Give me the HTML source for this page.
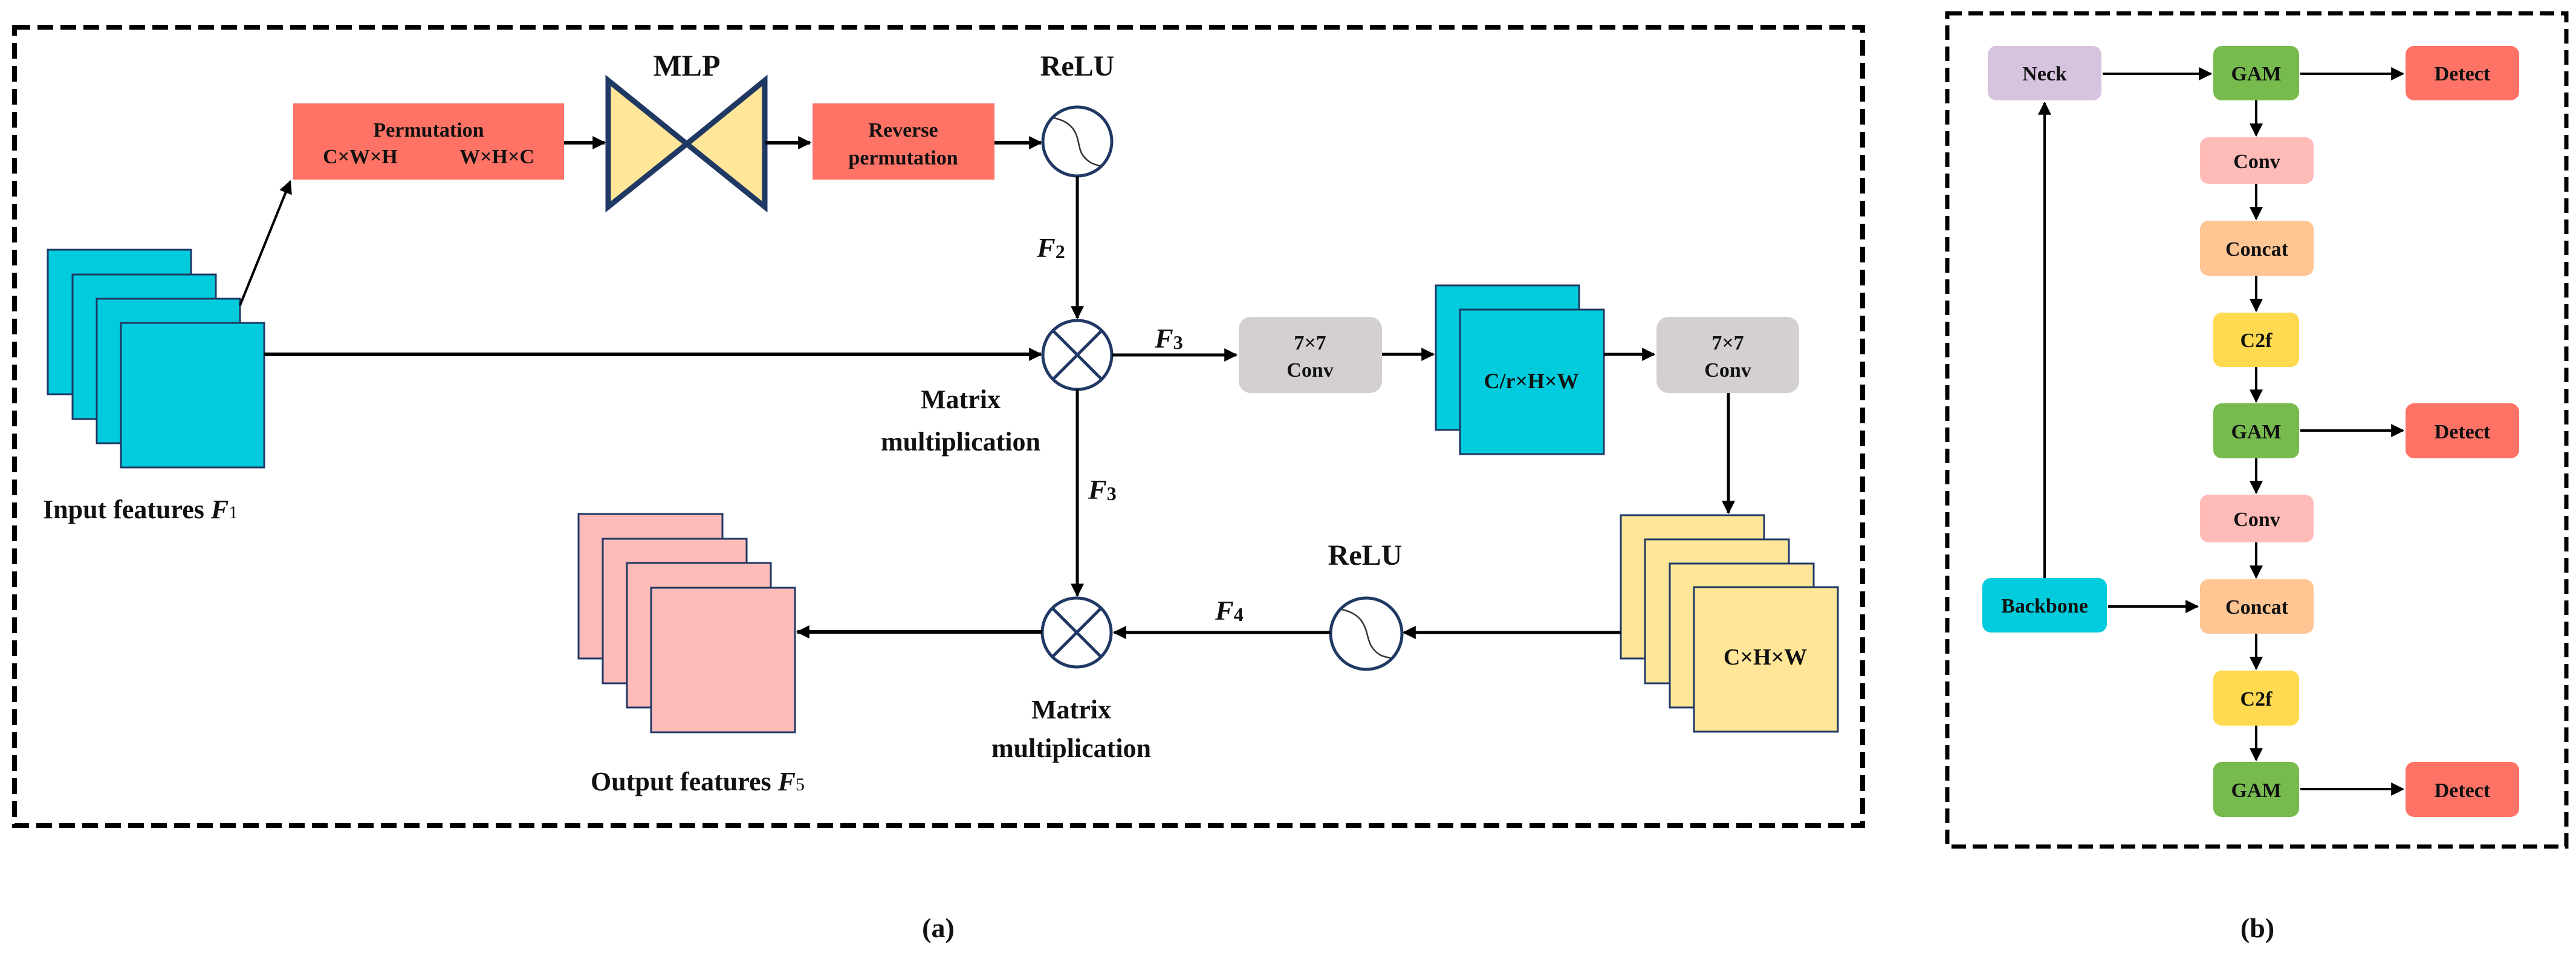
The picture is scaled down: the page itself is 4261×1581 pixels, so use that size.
<!DOCTYPE html>
<html><head><meta charset="utf-8"><style>
html,body{margin:0;padding:0;background:#fff}
svg{display:block}
text{font-family:"Liberation Serif",serif;font-weight:bold;fill:#111}
</style></head><body>
<svg width="4261" height="1581" viewBox="0 0 4261 1581" xmlns="http://www.w3.org/2000/svg">
<defs>
<marker id="ar" markerWidth="8" markerHeight="8" refX="7" refY="4" orient="auto" markerUnits="userSpaceOnUse" viewBox="0 0 8 8">
</marker>
<marker id="a" viewBox="0 0 10 10" refX="9" refY="5" markerWidth="22" markerHeight="22" markerUnits="userSpaceOnUse" orient="auto"><path d="M0,0 L10,5 L0,10 z" fill="#000"/></marker>
</defs>
<!-- dashed boxes -->
<rect x="24" y="45" width="3057" height="1320" fill="none" stroke="#000" stroke-width="8" stroke-dasharray="26,12"/>
<rect x="3221" y="22" width="1024" height="1378" fill="none" stroke="#000" stroke-width="7" stroke-dasharray="24,11"/>

<!-- (a) -->
<text x="656" y="110" text-anchor="middle" font-size="48" font-weight="bold" style="display:none"></text>
<text x="1136" y="125" text-anchor="middle" font-size="50">MLP</text>
<text x="1782" y="125" text-anchor="middle" font-size="48">ReLU</text>

<rect x="485" y="171" width="448" height="126" fill="#FF7366"/>
<text x="709" y="226" text-anchor="middle" font-size="34">Permutation</text>
<text x="596" y="270" text-anchor="middle" font-size="34">C×W×H</text>
<text x="822" y="270" text-anchor="middle" font-size="34">W×H×C</text>

<polygon points="1006,133 1136,238 1006,342" fill="#FFE699" stroke="#1F3864" stroke-width="9" stroke-linejoin="miter"/>
<polygon points="1265,133 1136,238 1265,342" fill="#FFE699" stroke="#1F3864" stroke-width="9"/>

<rect x="1344" y="171" width="301" height="126" fill="#FF7366"/>
<text x="1494" y="226" text-anchor="middle" font-size="34">Reverse</text>
<text x="1494" y="272" text-anchor="middle" font-size="34">permutation</text>

<line x1="933" y1="236" x2="1000" y2="236" stroke="#000" stroke-width="6" marker-end="url(#a)"/>
<line x1="1266" y1="236" x2="1340" y2="236" stroke="#000" stroke-width="6" marker-end="url(#a)"/>
<line x1="1645" y1="236" x2="1722" y2="236" stroke="#000" stroke-width="6" marker-end="url(#a)"/>

<circle cx="1782" cy="234" r="57" fill="#fff" stroke="#1F3864" stroke-width="5"/>
<path d="M1743,195 C1790,205 1780,240 1790,255 C1800,270 1810,272 1822,275" fill="none" stroke="#333" stroke-width="2.5"/>

<line x1="1782" y1="291" x2="1782" y2="526" stroke="#000" stroke-width="5" marker-end="url(#a)"/>
<text x="1715" y="425" font-size="46" font-style="italic">F<tspan font-size="32" font-style="normal" dy="2">2</tspan></text>

<!-- input features -->
<rect x="79" y="413" width="237" height="239" fill="#00CCDD" stroke="#1F3864" stroke-width="3"/>
<rect x="120" y="454" width="237" height="239" fill="#00CCDD" stroke="#1F3864" stroke-width="3"/>
<rect x="160" y="494" width="237" height="239" fill="#00CCDD" stroke="#1F3864" stroke-width="3"/>
<rect x="200" y="534" width="237" height="239" fill="#00CCDD" stroke="#1F3864" stroke-width="3"/>
<text x="71" y="857" font-size="44">Input features <tspan font-style="italic">F</tspan><tspan font-size="30" font-weight="normal">1</tspan></text>
<line x1="397" y1="505" x2="480" y2="300" stroke="#000" stroke-width="4" marker-end="url(#a)"/>
<line x1="437" y1="586" x2="1722" y2="586" stroke="#000" stroke-width="6" marker-end="url(#a)"/>

<circle cx="1782" cy="587" r="57" fill="#fff" stroke="#1F3864" stroke-width="5"/>
<line x1="1742" y1="547" x2="1822" y2="627" stroke="#1F3864" stroke-width="5"/>
<line x1="1822" y1="547" x2="1742" y2="627" stroke="#1F3864" stroke-width="5"/>
<text x="1589" y="675" text-anchor="middle" font-size="44">Matrix</text>
<text x="1589" y="745" text-anchor="middle" font-size="44">multiplication</text>

<line x1="1839" y1="587" x2="2045" y2="587" stroke="#000" stroke-width="5" marker-end="url(#a)"/>
<text x="1910" y="575" font-size="46" font-style="italic">F<tspan font-size="32" font-style="normal" dy="2">3</tspan></text>

<rect x="2049" y="524" width="237" height="126" rx="20" fill="#D5D0D0"/>
<text x="2167" y="578" text-anchor="middle" font-size="34">7×7</text>
<text x="2167" y="623" text-anchor="middle" font-size="34">Conv</text>
<line x1="2286" y1="586" x2="2371" y2="586" stroke="#000" stroke-width="5" marker-end="url(#a)"/>

<rect x="2375" y="472" width="237" height="239" fill="#00CCDD" stroke="#1F3864" stroke-width="3"/>
<rect x="2415" y="512" width="238" height="239" fill="#00CCDD" stroke="#1F3864" stroke-width="3"/>
<text x="2533" y="642" text-anchor="middle" font-size="36">C/r×H×W</text>
<line x1="2653" y1="586" x2="2736" y2="586" stroke="#000" stroke-width="5" marker-end="url(#a)"/>

<rect x="2740" y="524" width="236" height="126" rx="20" fill="#D5D0D0"/>
<text x="2858" y="578" text-anchor="middle" font-size="34">7×7</text>
<text x="2858" y="623" text-anchor="middle" font-size="34">Conv</text>
<line x1="2859" y1="650" x2="2859" y2="848" stroke="#000" stroke-width="5" marker-end="url(#a)"/>

<rect x="2681" y="852" width="237" height="237" fill="#FFE699" stroke="#1F3864" stroke-width="3"/>
<rect x="2721" y="892" width="238" height="238" fill="#FFE699" stroke="#1F3864" stroke-width="3"/>
<rect x="2762" y="932" width="238" height="238" fill="#FFE699" stroke="#1F3864" stroke-width="3"/>
<rect x="2802" y="971" width="238" height="239" fill="#FFE699" stroke="#1F3864" stroke-width="3"/>
<text x="2920" y="1099" text-anchor="middle" font-size="38">C×H×W</text>

<line x1="2681" y1="1046" x2="2322" y2="1046" stroke="#000" stroke-width="5" marker-end="url(#a)"/>
<circle cx="2260" cy="1048" r="59" fill="#fff" stroke="#1F3864" stroke-width="5"/>
<path d="M2220,1008 C2265,1018 2258,1052 2268,1068 C2278,1084 2288,1086 2300,1088" fill="none" stroke="#333" stroke-width="2.5"/>
<text x="2258" y="934" text-anchor="middle" font-size="48">ReLU</text>
<line x1="2201" y1="1046" x2="1843" y2="1046" stroke="#000" stroke-width="5" marker-end="url(#a)"/>
<text x="2010" y="1025" font-size="46" font-style="italic">F<tspan font-size="32" font-style="normal" dy="2">4</tspan></text>

<line x1="1782" y1="644" x2="1782" y2="985" stroke="#000" stroke-width="5" marker-end="url(#a)"/>
<text x="1800" y="825" font-size="46" font-style="italic">F<tspan font-size="32" font-style="normal" dy="2">3</tspan></text>

<circle cx="1781" cy="1046" r="57" fill="#fff" stroke="#1F3864" stroke-width="5"/>
<line x1="1741" y1="1006" x2="1821" y2="1086" stroke="#1F3864" stroke-width="5"/>
<line x1="1821" y1="1006" x2="1741" y2="1086" stroke="#1F3864" stroke-width="5"/>
<text x="1772" y="1188" text-anchor="middle" font-size="44">Matrix</text>
<text x="1772" y="1252" text-anchor="middle" font-size="44">multiplication</text>

<line x1="1724" y1="1045" x2="1319" y2="1045" stroke="#000" stroke-width="6" marker-end="url(#a)"/>

<rect x="957" y="850" width="238" height="239" fill="#FFBBB8" stroke="#1F3864" stroke-width="3"/>
<rect x="997" y="891" width="238" height="239" fill="#FFBBB8" stroke="#1F3864" stroke-width="3"/>
<rect x="1037" y="931" width="238" height="239" fill="#FFBBB8" stroke="#1F3864" stroke-width="3"/>
<rect x="1077" y="972" width="238" height="239" fill="#FFBBB8" stroke="#1F3864" stroke-width="3"/>
<text x="1154" y="1307" text-anchor="middle" font-size="44">Output features <tspan font-style="italic">F</tspan><tspan font-size="30" font-weight="normal">5</tspan></text>

<text x="1552" y="1550" text-anchor="middle" font-size="46" font-weight="normal">(<tspan font-weight="bold">a</tspan>)</text>

<!-- (b) -->
<g font-size="34">
<rect x="3288" y="76" width="188" height="90" rx="14" fill="#D8C3DF"/>
<text x="3382" y="133" text-anchor="middle" font-size="34">Neck</text>
<rect x="3661" y="76" width="142" height="90" rx="14" fill="#77BB4F"/>
<text x="3732" y="133" text-anchor="middle" font-size="34">GAM</text>
<rect x="3979" y="76" width="188" height="90" rx="14" fill="#FF7366"/>
<text x="4073" y="133" text-anchor="middle" font-size="34">Detect</text>
<rect x="3639" y="227" width="188" height="77" rx="14" fill="#FFBBB8"/>
<text x="3733" y="278" text-anchor="middle" font-size="34">Conv</text>
<rect x="3639" y="365" width="188" height="91" rx="14" fill="#FFC593"/>
<text x="3733" y="423" text-anchor="middle" font-size="34">Concat</text>
<rect x="3661" y="517" width="142" height="90" rx="14" fill="#FFD94F"/>
<text x="3732" y="574" text-anchor="middle" font-size="34">C2f</text>
<rect x="3661" y="667" width="142" height="91" rx="14" fill="#77BB4F"/>
<text x="3732" y="725" text-anchor="middle" font-size="34">GAM</text>
<rect x="3979" y="667" width="188" height="91" rx="14" fill="#FF7366"/>
<text x="4073" y="725" text-anchor="middle" font-size="34">Detect</text>
<rect x="3639" y="818" width="188" height="79" rx="14" fill="#FFBBB8"/>
<text x="3733" y="870" text-anchor="middle" font-size="34">Conv</text>
<rect x="3639" y="958" width="188" height="90" rx="14" fill="#FFC593"/>
<text x="3733" y="1015" text-anchor="middle" font-size="34">Concat</text>
<rect x="3279" y="956" width="206" height="90" rx="14" fill="#00CCDD"/>
<text x="3382" y="1013" text-anchor="middle" font-size="34">Backbone</text>
<rect x="3661" y="1109" width="142" height="91" rx="14" fill="#FFD94F"/>
<text x="3732" y="1167" text-anchor="middle" font-size="34">C2f</text>
<rect x="3661" y="1260" width="142" height="91" rx="14" fill="#77BB4F"/>
<text x="3732" y="1318" text-anchor="middle" font-size="34">GAM</text>
<rect x="3979" y="1260" width="188" height="91" rx="14" fill="#FF7366"/>
<text x="4073" y="1318" text-anchor="middle" font-size="34">Detect</text>
</g>
<g stroke="#000" stroke-width="4">
<line x1="3478" y1="122" x2="3657" y2="122" marker-end="url(#a)"/>
<line x1="3805" y1="122" x2="3975" y2="122" marker-end="url(#a)"/>
<line x1="3732" y1="166" x2="3732" y2="224" marker-end="url(#a)"/>
<line x1="3732" y1="304" x2="3732" y2="362" marker-end="url(#a)"/>
<line x1="3732" y1="456" x2="3732" y2="514" marker-end="url(#a)"/>
<line x1="3732" y1="607" x2="3732" y2="664" marker-end="url(#a)"/>
<line x1="3805" y1="712" x2="3975" y2="712" marker-end="url(#a)"/>
<line x1="3732" y1="758" x2="3732" y2="815" marker-end="url(#a)"/>
<line x1="3732" y1="897" x2="3732" y2="955" marker-end="url(#a)"/>
<line x1="3487" y1="1003" x2="3635" y2="1003" marker-end="url(#a)"/>
<line x1="3732" y1="1048" x2="3732" y2="1106" marker-end="url(#a)"/>
<line x1="3732" y1="1200" x2="3732" y2="1257" marker-end="url(#a)"/>
<line x1="3805" y1="1305" x2="3975" y2="1305" marker-end="url(#a)"/>
<line x1="3382" y1="956" x2="3382" y2="170" marker-end="url(#a)"/>
</g>
<text x="3734" y="1550" text-anchor="middle" font-size="46">(b)</text>
</svg>
</body></html>
